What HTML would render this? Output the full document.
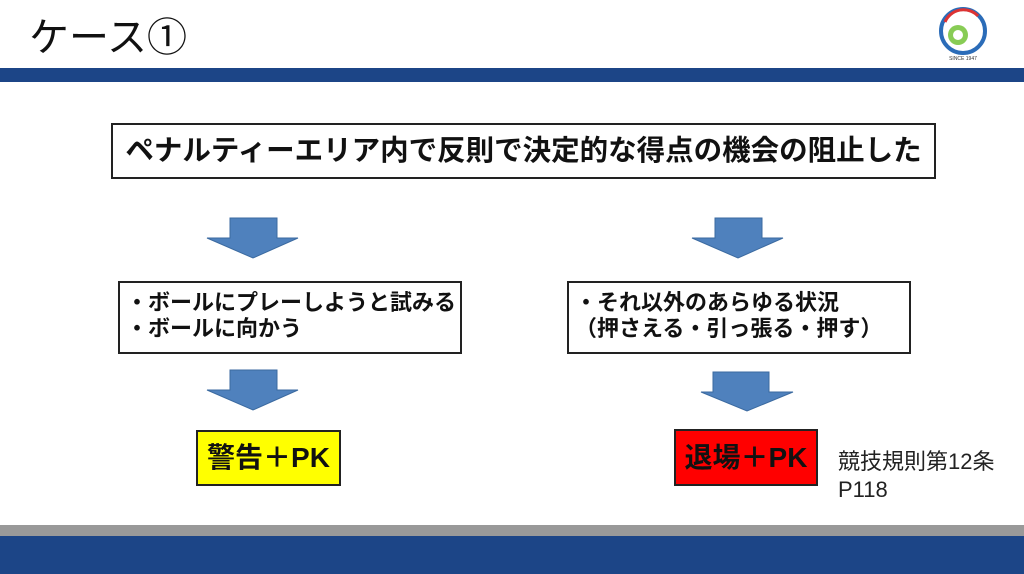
<!DOCTYPE html>
<html><head><meta charset="utf-8"><style>
body{margin:0;width:1024px;height:574px;position:relative;overflow:hidden;background:#fff;font-family:"Liberation Sans","Noto Sans CJK JP",sans-serif;}
.a{position:absolute;box-sizing:border-box;}
.box{border:2px solid #222;font-weight:bold;color:#111;white-space:nowrap;}
</style></head><body>
<div class="a" style="left:29px;top:5px;font-size:40px;color:#111;">ケース①</div>
<svg class="a" style="left:936px;top:6px" width="54" height="58" viewBox="0 0 54 58">
<circle cx="27" cy="25" r="22" fill="none" stroke="#2b6cb8" stroke-width="4"/>
<path d="M9 16 A20 20 0 0 1 42 10" fill="none" stroke="#d33" stroke-width="3"/>
<circle cx="22" cy="29" r="10" fill="#8c5" />
<circle cx="22" cy="29" r="5" fill="#fff"/>
<text x="27" y="54" font-size="5" text-anchor="middle" fill="#333">SINCE 1947</text>
</svg>
<div class="a" style="left:0;top:68px;width:1024px;height:14px;background:#1c4587"></div>
<div class="a box" style="left:111px;top:123px;width:825px;height:56px;font-size:28.5px;line-height:52px;text-align:center;">ペナルティーエリア内で反則で決定的な得点の機会の阻止した</div>
<svg class="a" style="left:0;top:0" width="1024" height="574">
<g fill="#4f81bd" stroke="#3b6aa0" stroke-width="1">
<polygon points="230,218 277,218 277,238 298,238 253,258 207,238 230,238"/>
<polygon points="715,218 762,218 762,238 783,238 738,258 692,238 715,238"/>
<polygon points="230,370 277,370 277,390 298,390 253,410 207,390 230,390"/>
<polygon points="713,372 769,372 769,392 793,392 747,411 701,392 713,392"/>
</g></svg>
<div class="a box" style="left:118px;top:281px;width:344px;height:73px;font-size:22px;line-height:26px;padding:7px 0 0 6px;">・ボールにプレーしようと試みる<br>・ボールに向かう</div>
<div class="a box" style="left:567px;top:281px;width:344px;height:73px;font-size:22px;line-height:26px;padding:7px 0 0 6px;">・それ以外のあらゆる状況<br>（押さえる・引っ張る・押す）</div>
<div class="a box" style="left:196px;top:430px;width:145px;height:56px;background:#ffff00;font-size:28px;line-height:52px;text-align:center;">警告＋PK</div>
<div class="a box" style="left:674px;top:429px;width:144px;height:57px;background:#ff0000;font-size:28px;line-height:53px;text-align:center;">退場＋PK</div>
<div class="a" style="left:838px;top:448px;font-size:22px;line-height:28px;color:#222;">競技規則第12条<br>P118</div>
<div class="a" style="left:0;top:525px;width:1024px;height:11px;background:#999"></div>
<div class="a" style="left:0;top:536px;width:1024px;height:38px;background:#1c4587"></div>
</body></html>
